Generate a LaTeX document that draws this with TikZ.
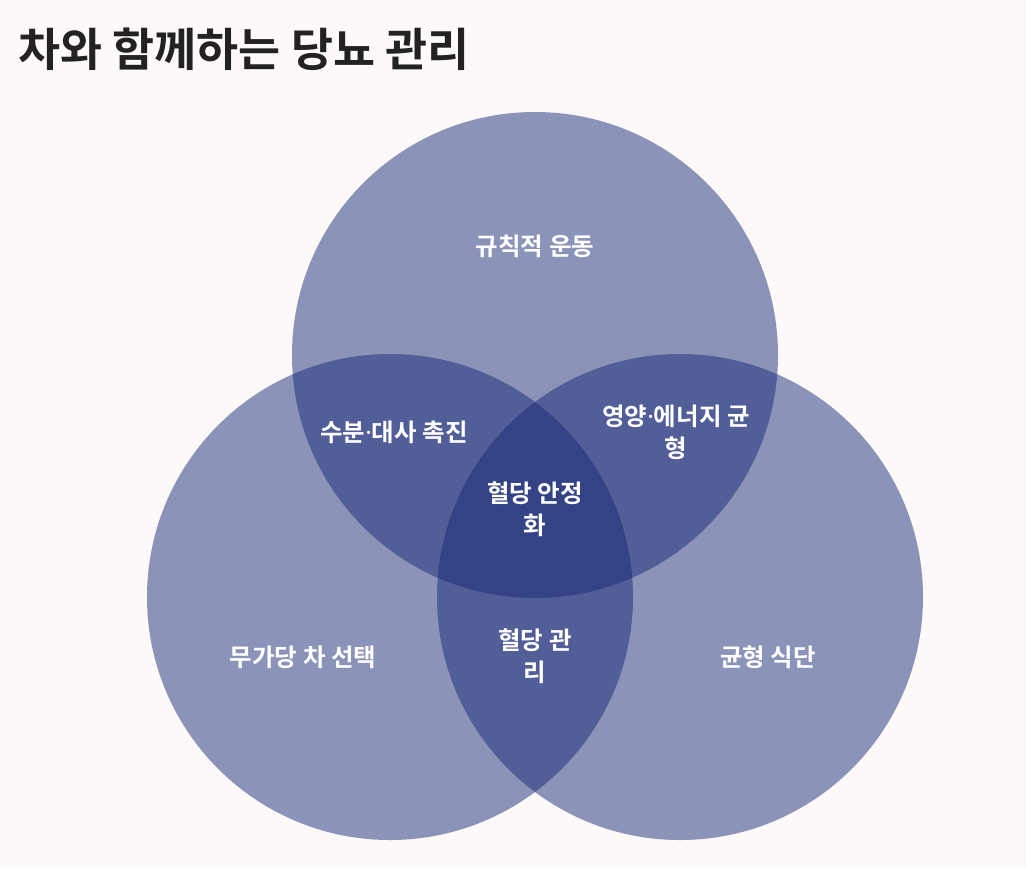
\documentclass[tikz,border=0pt]{standalone}
\usepackage{fontspec}
\setmainfont{Noto Sans CJK KR}[BoldFont={* Bold}]
\newfontfamily\latinfont{Noto Sans}
\newcommand{\mdot}{{\latinfont\bfseries ·}}
\definecolor{bg}{HTML}{FDF9F8}
\definecolor{base}{RGB}{21,40,117}
\definecolor{titlecol}{HTML}{222222}
\tikzset{
  venn/.style={fill=base, fill opacity=0.487, draw=none},
  lbl/.style={text=white, font=\fontsize{24.5}{32}\selectfont\bfseries, align=center, inner sep=0pt},
}
\begin{document}
\begin{tikzpicture}[x=1pt,y=-1pt]
\fill[bg] (0,0) rectangle (1026,868);
\useasboundingbox (0,0) rectangle (1026,868);
\node[anchor=base west, inner sep=0pt, text=titlecol, font=\fontsize{45.7}{50}\selectfont\bfseries] (title) at (18,66) {차와 함께하는 당뇨 관리};
\fill[venn] (535,355) circle (243);
\fill[venn] (390,597) circle (243);
\fill[venn] (680,597) circle (243);
\node[lbl] (a) at (535,246) {규칙적 운동};
\node[lbl] (ab) at (394,432) {수분\mdot 대사 촉진};
\node[lbl] (ac) at (676,432) {영양\mdot 에너지 균\\형};
\node[lbl] (abc) at (535,509) {혈당 안정\\화};
\node[lbl] (b) at (303,657) {무가당 차 선택};
\node[lbl] (bc) at (535,656) {혈당 관\\리};
\node[lbl] (c) at (768,657) {균형 식단};
\end{tikzpicture}
\end{document}
